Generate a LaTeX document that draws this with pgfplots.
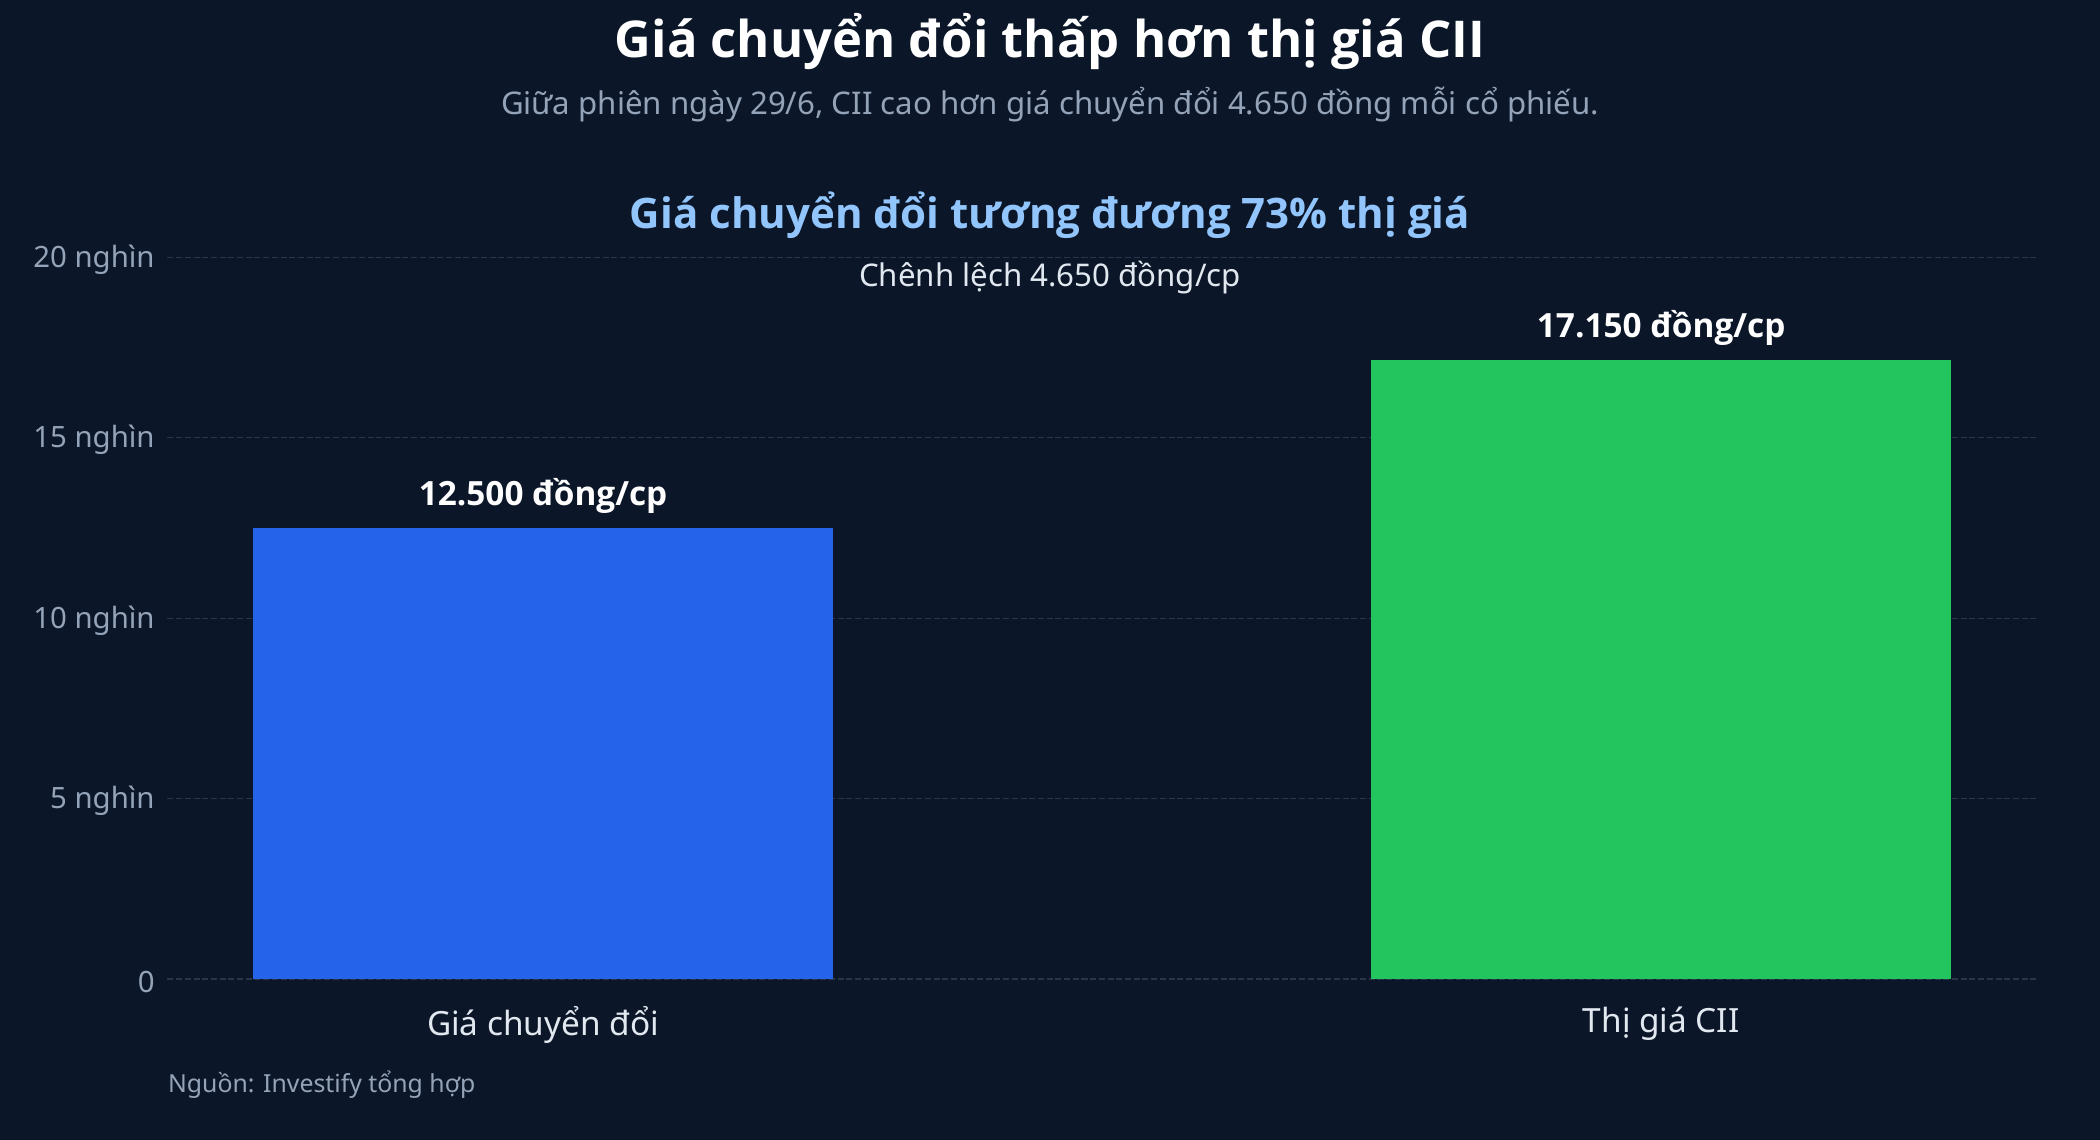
\documentclass[border=0pt]{standalone}
\usepackage{pgfplots}
\pgfplotsset{compat=1.18}
\usepackage{fontspec}
\setmainfont{Noto Sans}
\newfontfamily\boldf{Open Sans}

\definecolor{bg}{HTML}{0B1628}
\definecolor{gridc}{HTML}{2A3648}
\definecolor{barblue}{HTML}{2563EB}
\definecolor{bargreen}{HTML}{22C55E}
\definecolor{subgray}{HTML}{94A3B8}
\definecolor{lightblue}{HTML}{93C5FD}
\definecolor{labelc}{HTML}{E2E8F0}

\begin{document}
\begin{tikzpicture}[x=1bp,y=1bp]
  % background, 1568 x 851 like the reference at its display scale
  \fill[bg] (0,0) rectangle (1568,851);

  \begin{axis}[
      at={(125bp,120bp)}, anchor=south west,
      scale only axis,
      width=1395bp, height=539bp,
      xmin=-0.336, xmax=1.335,
      ymin=0, ymax=20000,
      axis line style={draw=none},
      ybar, bar width=433bp,
      bar shift=0pt,
      xtick={0,1},
      xticklabels={Giá chuyển đổi, Thị giá CII},
      x tick label style={font=\fontsize{25}{29}\selectfont, text=labelc, yshift=-17bp},
      ytick={0,5000,10000,15000,20000},
      scaled y ticks=false,
      yticklabels={0, 5 nghìn, 10 nghìn, 15 nghìn, 20 nghìn},
      y tick label style={font=\fontsize{22}{26}\selectfont, text=subgray, xshift=-6bp, yshift=-2bp},
      major tick length=0pt,
      ymajorgrids,
      major grid style={gridc, dash pattern=on 4.5bp off 2bp, line width=0.8bp},
      point meta=explicit symbolic,
      nodes near coords,
      nodes near coords style={font=\boldf\bfseries\fontsize{25}{30}\selectfont, text=white, yshift=7bp},
    ]
    \addplot[draw=none, fill=barblue] coordinates {(0,12500) [12.500 đồng/cp]};
    \addplot[draw=none, fill=bargreen] coordinates {(1,17150) [17.150 đồng/cp]};
  \end{axis}

  \node[text=white, font=\boldf\bfseries\fontsize{38}{43}\selectfont] at (784,820) {Giá chuyển đổi thấp hơn thị giá CII};
  \node[text=subgray, font=\fontsize{23.4}{28}\selectfont] at (784,773) {Giữa phiên ngày 29/6, CII cao hơn giá chuyển đổi 4.650 đồng mỗi cổ phiếu.};
  \node[text=lightblue, font=\boldf\bfseries\fontsize{31.5}{36}\selectfont] at (784,690) {Giá chuyển đổi tương đương 73\% thị giá};
  \node[text=labelc, font=\fontsize{23.4}{28}\selectfont] at (784,644) {Chênh lệch 4.650 đồng/cp};
  \node[text=subgray, font=\fontsize{18.6}{22}\selectfont, anchor=west] at (122,41) {Nguồn: Investify tổng hợp};
\end{tikzpicture}
\end{document}
